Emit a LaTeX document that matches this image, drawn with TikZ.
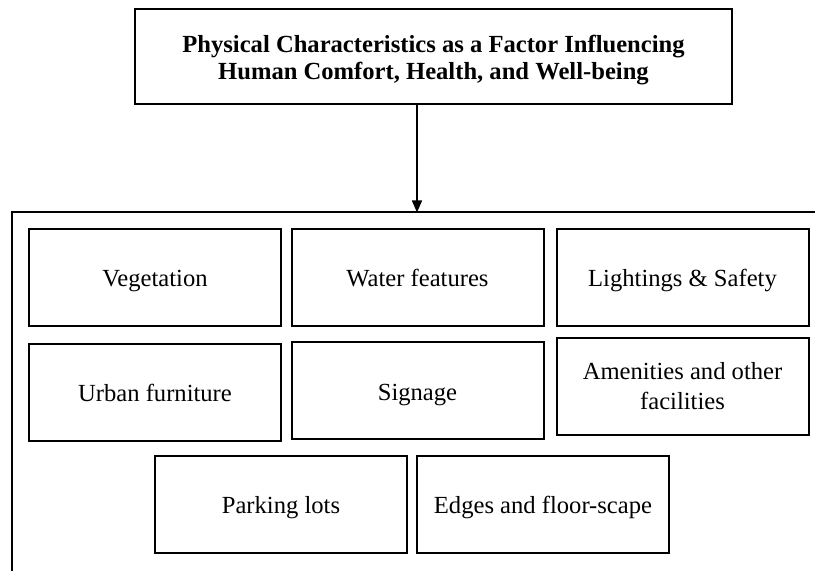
\documentclass[tikz,border=0pt]{standalone}
\usepackage{fontspec}
\setmainfont{Liberation Serif}
\usepackage{tikz}
\usetikzlibrary{positioning, arrows.meta}

\begin{document}
\begin{tikzpicture}[
  x=0.5pt, y=-0.5pt,
  titlebox/.style={
    draw, line width=1pt,
    minimum width=298.5pt, minimum height=47.5pt,
    text height=24.5pt, text depth=1pt,
    font=\fontsize{12.3}{13.5}\selectfont\bfseries, align=center
  },
  itembox/.style={
    draw, line width=1pt,
    minimum width=126pt, minimum height=48.5pt,
    text height=11pt, text depth=1.5pt,
    font=\fontsize{12.3}{15}\selectfont, align=center
  },
  twolines/.style={text height=24.5pt},
  arrow/.style={-{Triangle[length=6pt, width=5pt]}, line width=0.7pt},
  frameline/.style={line width=1pt}
]
\useasboundingbox (0,0) rectangle (815,571);

% ---- TITRE ----
\node[titlebox] (title) at (433.5, 56.5)
  {Physical Characteristics as a Factor Influencing\\Human Comfort, Health, and Well-being};

% ---- CADRE ----
\coordinate (fbot)   at (12, 571);
\coordinate (fleft)  at (12, 212.5);
\coordinate (fright) at (815, 212.5);
\coordinate (fin)    at (417, 212.5);
\draw[frameline] (fbot) -- (fleft) -- (fright);

% ---- ELEMENTS ----
\node[itembox] (veg)  at (155,   277.5) {Vegetation};
\node[itembox] (wat)  at (417.5, 277.5) {Water features};
\node[itembox] (lig)  at (682.5, 277.5) {Lightings \& Safety};

\node[itembox] (urb)  at (155,   392.5) {Urban furniture};
\node[itembox] (sig)  at (417.5, 391)   {Signage};
\node[itembox, twolines] (ame) at (682.5, 387) {Amenities and other\\facilities};

\node[itembox] (park) at (281,   504.5) {Parking lots};
\node[itembox] (edge) at (543,   504.5) {Edges and floor-scape};

% ---- Fleche ----
\draw[arrow] (title.south -| fin) -- (fin);

\end{tikzpicture}
\end{document}
